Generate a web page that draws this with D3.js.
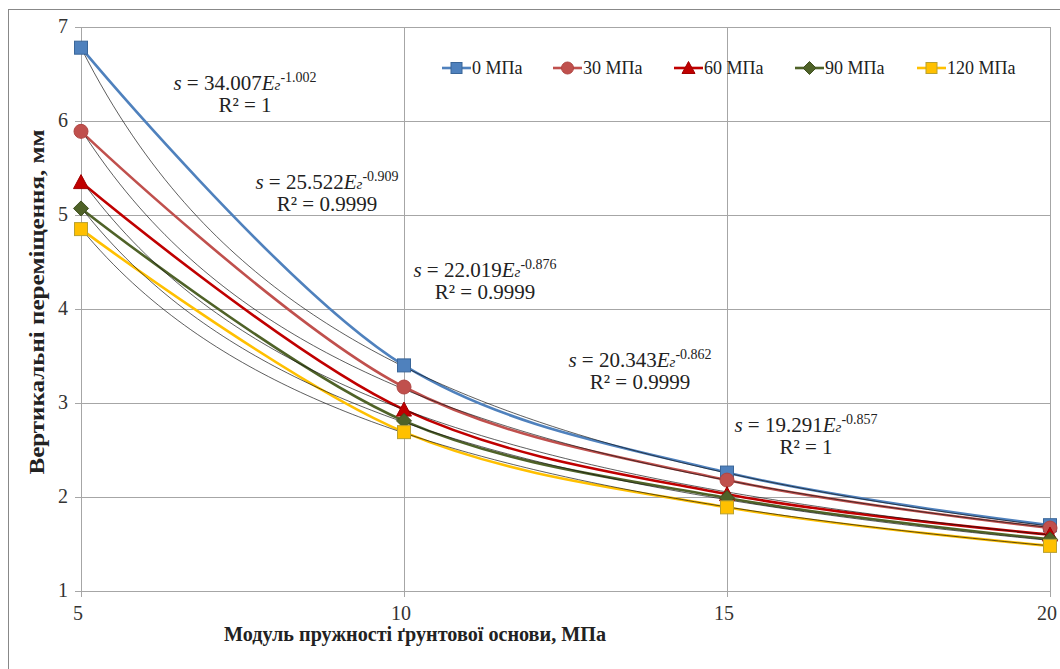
<!DOCTYPE html>
<html><head><meta charset="utf-8">
<script src="https://cdn.jsdelivr.net/npm/d3@7"></script>
<style>body{margin:0;background:#fff;} svg{display:block;} text{font-family:"Liberation Serif","Times New Roman",serif;}</style>
</head><body>
<svg id="c" width="1060" height="669"></svg>
<script>
const xValues = [5, 10, 15, 20];
const seriesNames = ["0 МПа", "30 МПа", "60 МПа", "90 МПа", "120 МПа"];
const s0 = [6.78, 3.40, 2.26, 1.70];
const s30 = [5.89, 3.17, 2.18, 1.67];
const s60 = [5.35, 2.93, 2.03, 1.60];
const s90 = [5.07, 2.81, 1.99, 1.55];
const s120 = [4.85, 2.69, 1.89, 1.48];
const fitCoef = [34.007, 25.522, 22.019, 20.343, 19.291];
const fitExp = [-1.002, -0.909, -0.876, -0.862, -0.857];
const fitCoefLabels = ["34.007", "25.522", "22.019", "20.343", "19.291"];
const fitExpLabels = ["-1.002", "-0.909", "-0.876", "-0.862", "-0.857"];
const r2Labels = ["1", "0.9999", "0.9999", "0.9999", "1"];
const xTicks = [5, 10, 15, 20];
const yTicks = [1, 2, 3, 4, 5, 6, 7];
const xTitle = "Модуль пружності ґрунтової основи, МПа";
const yTitle = "Вертикальні переміщення, мм";

const seriesValues = [s0, s30, s60, s90, s120];
const lineColors = ["#4F81BD", "#C0504D", "#C00000", "#4F6228", "#FFC000"];
const markerFill = ["#4F81BD", "#C0504D", "#C00000", "#4F6228", "#FFC000"];
const markerStroke = ["#3A6699", "#B04542", "#A00000", "#3F5020", "#B8A030"];
const markerType = ["square", "circle", "triangle", "diamond", "square"];
const FONT = "'Liberation Serif','Times New Roman',serif";

const svg = d3.select("#c");
const L = 81, R = 1050, T = 27, B = 591;
const x = d3.scaleLinear().domain([5, 20]).range([L, R]);
const y = d3.scaleLinear().domain([1, 7]).range([B, T]);

// outer chart border
svg.append("rect").attr("x", 8.5).attr("y", 9.5).attr("width", 1070).attr("height", 700)
  .attr("fill", "none").attr("stroke", "#888").attr("stroke-width", 1);

// gridlines
svg.append("g").selectAll("line").data(yTicks).join("line")
  .attr("x1", L - 6).attr("x2", R).attr("y1", d => Math.round(y(d)) + 0.5).attr("y2", d => Math.round(y(d)) + 0.5)
  .attr("stroke", "#A6A6A6").attr("stroke-width", 1);
svg.append("g").selectAll("line").data(xTicks).join("line")
  .attr("y1", T).attr("y2", B + 6).attr("x1", d => Math.round(x(d)) + 0.5).attr("x2", d => Math.round(x(d)) + 0.5)
  .attr("stroke", "#A6A6A6").attr("stroke-width", 1);

// tick labels
svg.append("g").selectAll("text").data(yTicks).join("text")
  .attr("x", L - 13).attr("y", d => y(d) + 6).attr("text-anchor", "end").attr("font-family", FONT)
  .attr("font-size", 20).attr("fill", "#333").text(d => d);
svg.append("g").selectAll("text").data(xTicks).join("text")
  .attr("x", d => x(d) - 3).attr("y", B + 29).attr("text-anchor", "middle").attr("font-family", FONT)
  .attr("font-size", 20).attr("fill", "#333").text(d => d);

// axis titles
svg.append("text").attr("x", 415).attr("y", 641).attr("text-anchor", "middle").attr("font-family", FONT)
  .attr("font-size", 20).attr("font-weight", "bold").attr("fill", "#222")
  .attr("textLength", 382).attr("lengthAdjust", "spacingAndGlyphs").text(xTitle);
svg.append("text").attr("transform", "translate(44,302) rotate(-90)").attr("text-anchor", "middle").attr("font-family", FONT)
  .attr("font-size", 21).attr("font-weight", "bold").attr("fill", "#222")
  .attr("textLength", 345).attr("lengthAdjust", "spacingAndGlyphs").text(yTitle);

// series lines (smoothed)
const fineX = d3.range(5, 20.001, 0.1);
const line = d3.line().x(d => x(d[0])).y(d => y(d[1])).curve(d3.curveCatmullRom.alpha(0.5));
const serG = svg.append("g");
seriesValues.forEach((vals, i) => {
  const pts = xValues.map((e, j) => [e, vals[j]]);
  serG.append("path").attr("d", line(pts)).attr("fill", "none")
    .attr("stroke", lineColors[i]).attr("stroke-width", 2.6);
});
// power trendlines from the shown coefficients, thin black on top
fitCoef.forEach((a, i) => {
  const pts = fineX.map(e => [e, a * Math.pow(e, fitExp[i])]);
  serG.append("path").attr("d", d3.line().x(d => x(d[0])).y(d => y(d[1]))(pts))
    .attr("fill", "none").attr("stroke", "#111").attr("stroke-width", 0.8).attr("opacity", 0.85);
});

function marker(g, type, cx, cy, i, size) {
  const s = size || 13;
  let el;
  if (type === "square") el = g.append("rect").attr("x", cx - s / 2).attr("y", cy - s / 2).attr("width", s).attr("height", s);
  else if (type === "circle") el = g.append("circle").attr("cx", cx).attr("cy", cy).attr("r", s / 2 + 0.5);
  else if (type === "triangle") el = g.append("path").attr("d", `M${cx},${cy - s / 2 - 1}L${cx + s / 2 + 1},${cy + s / 2}L${cx - s / 2 - 1},${cy + s / 2}Z`);
  else el = g.append("path").attr("d", `M${cx},${cy - s / 2 - 1}L${cx + s / 2 + 1},${cy}L${cx},${cy + s / 2 + 1}L${cx - s / 2 - 1},${cy}Z`);
  el.attr("fill", markerFill[i]).attr("stroke", markerStroke[i]).attr("stroke-width", 1);
}
const mG = svg.append("g");
seriesValues.forEach((vals, i) => {
  xValues.forEach((e, j) => marker(mG, markerType[i], x(e), y(vals[j]), i));
});

// legend
const legX = [442, 553, 674, 795, 917];
const legY = 68;
const lg = svg.append("g");
seriesNames.forEach((n, i) => {
  lg.append("line").attr("x1", legX[i]).attr("x2", legX[i] + 29).attr("y1", legY).attr("y2", legY)
    .attr("stroke", lineColors[i]).attr("stroke-width", 2.6);
  marker(lg, markerType[i], legX[i] + 14.5, legY, i, 11);
  lg.append("text").attr("x", legX[i] + 30).attr("y", legY + 6).attr("font-family", FONT)
    .attr("font-size", 18).attr("fill", "#222").text(n);
});

// equation labels
const eqPos = [[245, 90], [327, 189], [485, 277], [640, 367], [806, 432]];
const eqG = svg.append("g");
fitCoef.forEach((a, i) => {
  const [cx, cy] = eqPos[i];
  const t = eqG.append("text").attr("x", cx).attr("y", cy).attr("text-anchor", "middle").attr("font-family", FONT)
    .attr("font-size", 21).attr("fill", "#222");
  t.append("tspan").attr("font-style", "italic").text("s");
  t.append("tspan").text(" = " + fitCoefLabels[i]);
  t.append("tspan").attr("font-style", "italic").text("E");
  t.append("tspan").attr("font-style", "italic").attr("font-size", 15).text("г");
  t.append("tspan").attr("font-size", 14).attr("dy", -8).text(fitExpLabels[i]);
  eqG.append("text").attr("x", cx).attr("y", cy + 22).attr("text-anchor", "middle").attr("font-family", FONT)
    .attr("font-size", 21).attr("fill", "#222").text("R² = " + r2Labels[i]);
});
</script>
</body></html>
